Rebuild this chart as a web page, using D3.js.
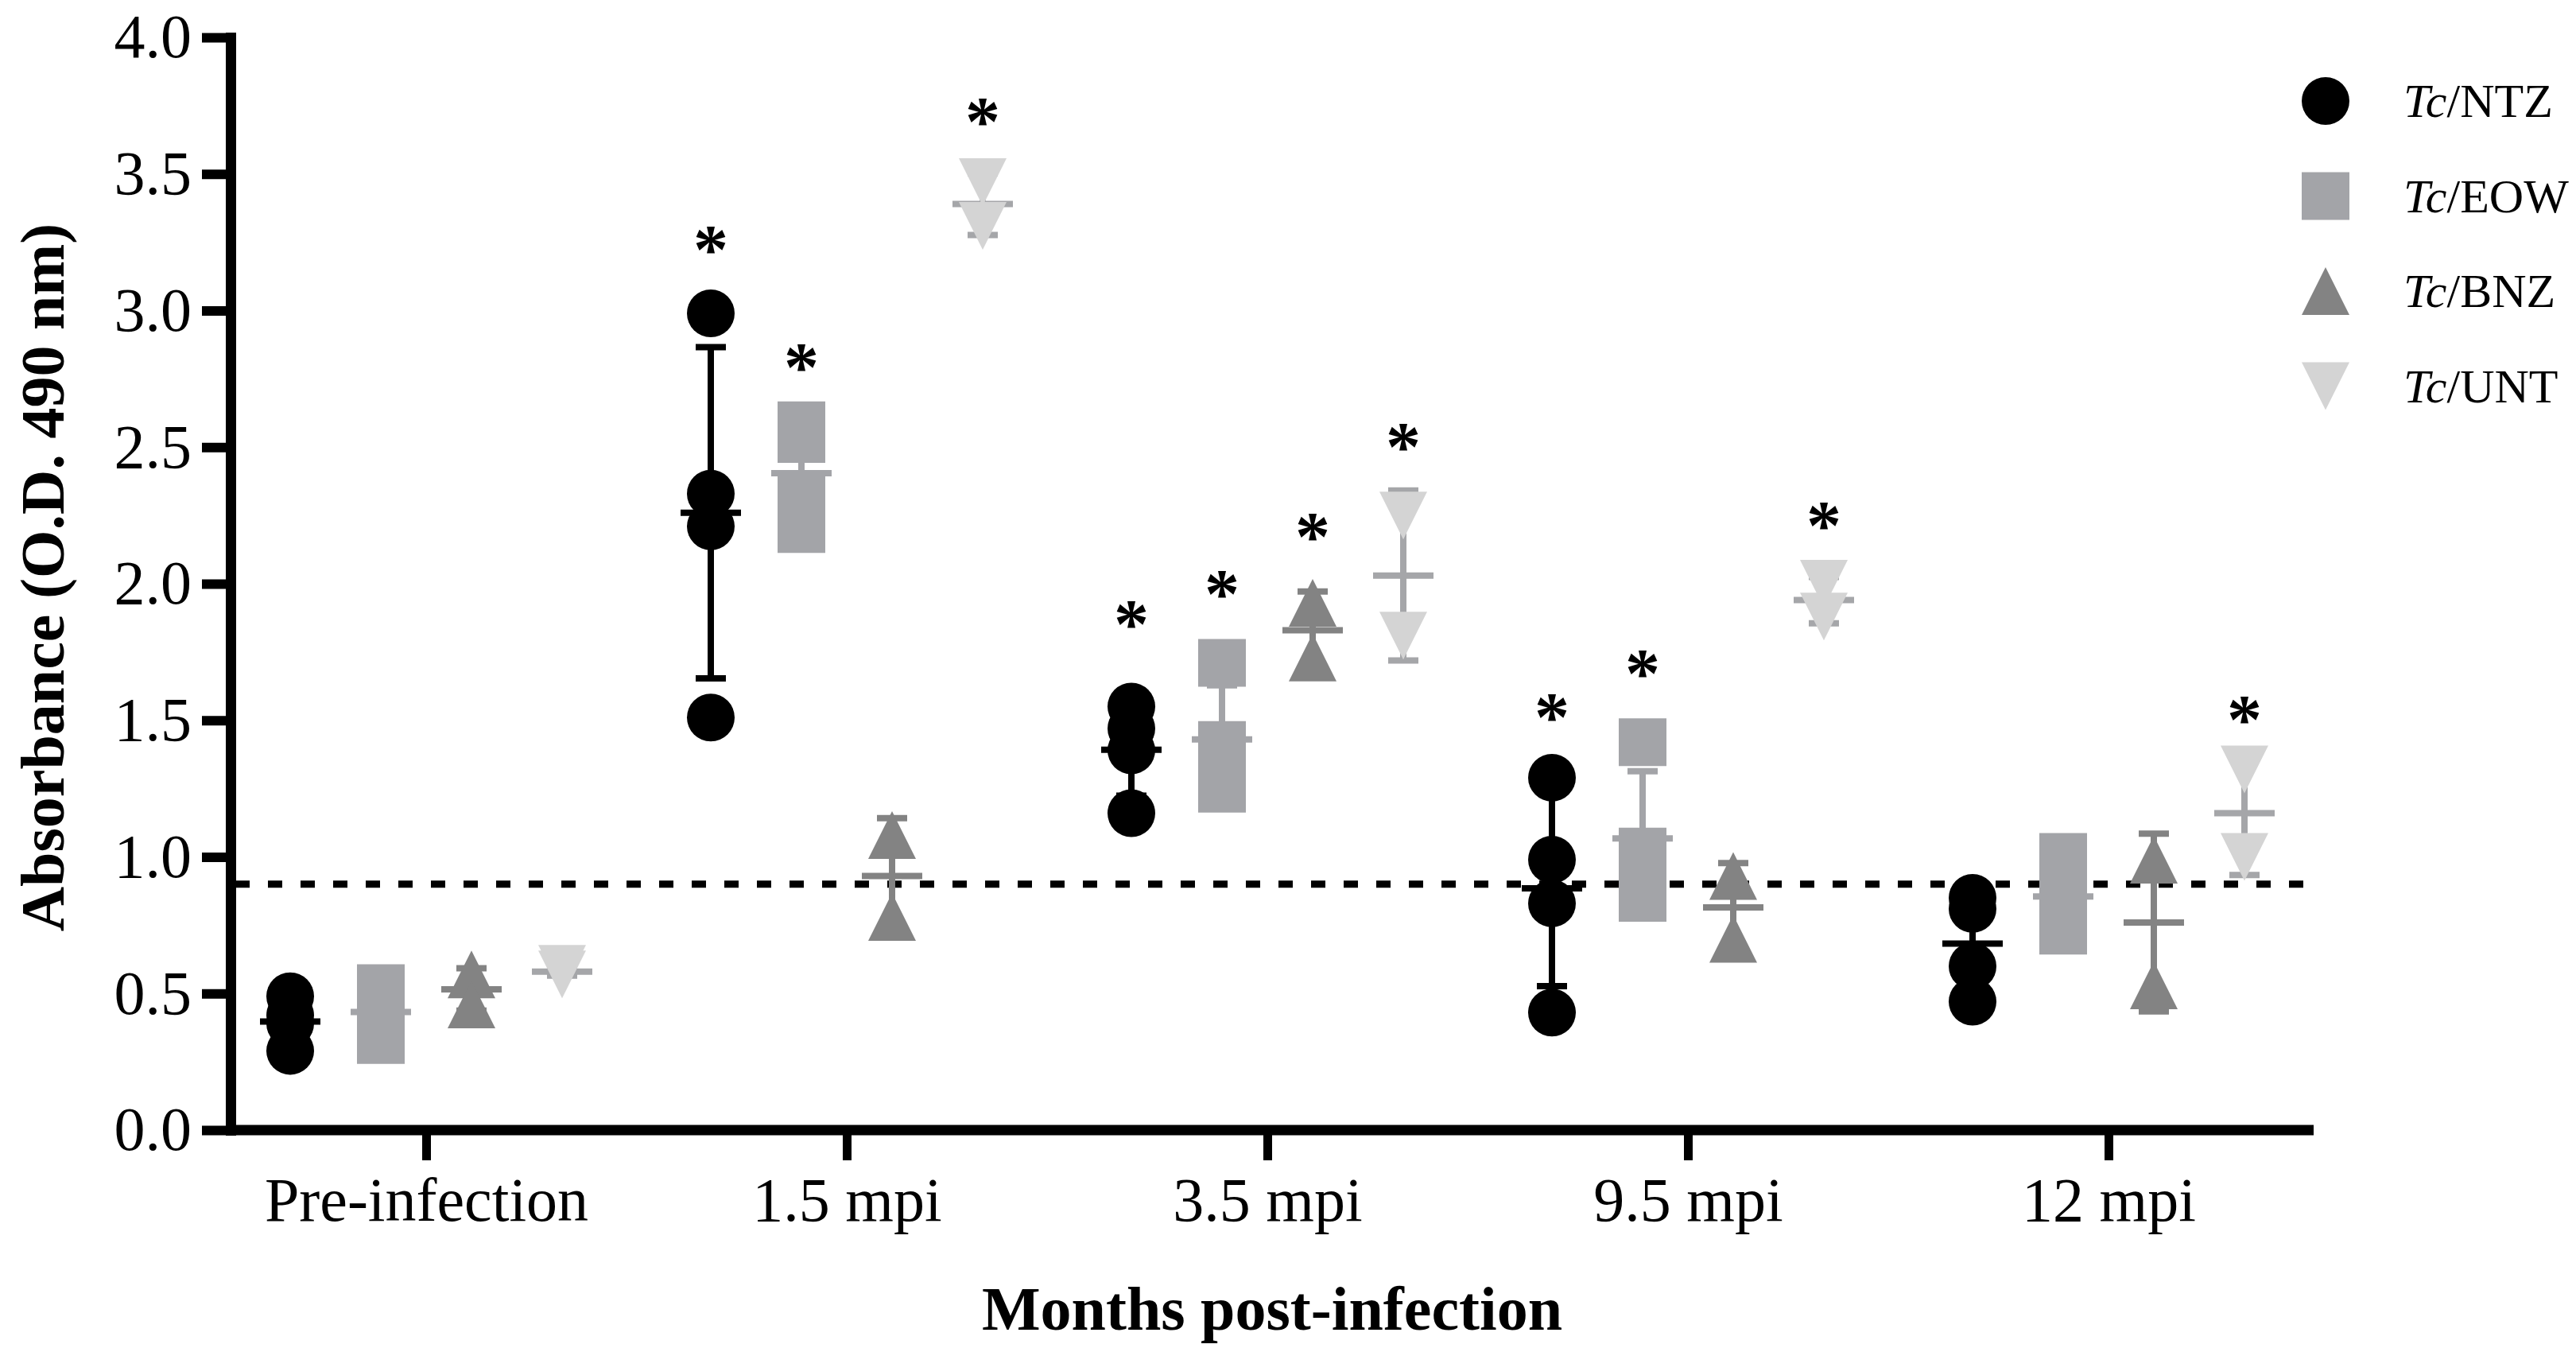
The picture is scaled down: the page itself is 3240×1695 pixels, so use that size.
<!DOCTYPE html>
<html>
<head>
<meta charset="utf-8">
<script src="https://cdn.jsdelivr.net/npm/d3@7"></script>
<style>
	html, body { margin: 0; padding: 0; background: #fff; }
	svg { display: block; }
	text { font-family: "Liberation Serif", "Times New Roman", serif; fill: #000; }
</style>
</head>
<body>
<svg id="chart" width="3240" height="1695"></svg>
<script>
const timepoints = ["Pre-infection", "1.5 mpi", "3.5 mpi", "9.5 mpi", "12 mpi"]
const groups = ["NTZ", "EOW", "BNZ", "UNT"]

// replicate absorbance readings (O.D. 490 nm), one array per time point
const ntz = [[0.49, 0.42, 0.39, 0.29], [2.99, 2.33, 2.21, 1.51], [1.55, 1.47, 1.39, 1.16], [1.29, 0.99, 0.83, 0.43], [0.85, 0.81, 0.60, 0.47]]
const eow = [[0.52, 0.45, 0.43, 0.33], [2.58, 2.53, 2.31, 2.20], [1.71, 1.41, 1.35, 1.25], [1.42, 1.02, 0.98, 0.85], [1.00, 0.87, 0.82, 0.73]]
const bnz = [[0.57, 0.46], [1.08, 0.78], [1.93, 1.73], [0.93, 0.70], [0.99, 0.53]]
const unt = [[0.59, 0.57], [3.47, 3.31], [2.25, 1.81], [2.00, 1.88], [1.32, 1.00]]

const cutoff = 0.9
const yTicks = [0, 0.5, 1, 1.5, 2, 2.5, 3, 3.5, 4]

// significance marks: time point, group, height of the star
const stars = [
	["1.5 mpi", "NTZ", 3.26], ["1.5 mpi", "EOW", 2.83], ["1.5 mpi", "UNT", 3.73],
	["3.5 mpi", "NTZ", 1.89], ["3.5 mpi", "EOW", 2.0], ["3.5 mpi", "BNZ", 2.21], ["3.5 mpi", "UNT", 2.54],
	["9.5 mpi", "NTZ", 1.55], ["9.5 mpi", "EOW", 1.71], ["9.5 mpi", "UNT", 2.25],
	["12 mpi", "UNT", 1.54],
]

const readings = { NTZ: ntz, EOW: eow, BNZ: bnz, UNT: unt }

const style = {
	NTZ: { fill: "#000000", bar: "#000000", shape: "circle" },
	EOW: { fill: "#a3a4a8", bar: "#a3a4a8", shape: "square" },
	BNZ: { fill: "#838383", bar: "#838383", shape: "up" },
	UNT: { fill: "#d4d4d4", bar: "#a5a6a9", shape: "down" },
}

const svg = d3.select("#chart")

const y = d3.scaleLinear().domain([0, 4]).range([1421, 47])
const x = d3.scalePoint().domain(timepoints).range([536, 2652])
const offset = d3.scalePoint().domain(groups).range([-171, 171])
const xLeft = 290, xRight = 2910
const mk = 30 // marker half size

function shapePath(shape, r) {
	if (shape === "circle") return d3.symbol(d3.symbolCircle, Math.PI * r * r)()
	if (shape === "square") return `M${-r},${-r}H${r}V${r}H${-r}Z`
	if (shape === "up") return `M0,${-r}L${r},${r}L${-r},${r}Z`
	return `M${-r},${-r}L${r},${-r}L0,${r}Z`
}

// flatten into one row per group & time point
const summary = []
groups.forEach(g => {
	timepoints.forEach((t, i) => {
		const vals = readings[g][i]
		summary.push({
			group: g, time: t, values: vals,
			mean: d3.mean(vals), sd: d3.deviation(vals),
			cx: x(t) + offset(g),
		})
	})
})

// cutoff line
svg.append("line")
	.attr("x1", xLeft + 6).attr("x2", xRight - 4)
	.attr("y1", y(cutoff)).attr("y2", y(cutoff))
	.attr("stroke", "#000").attr("stroke-width", 9)
	.attr("stroke-dasharray", "18 23")

// error bars and mean lines
const bars = svg.append("g").attr("class", "bars")
	.selectAll("g")
	.data(summary)
	.join("g")
	.attr("stroke", d => style[d.group].bar)
	.attr("stroke-width", 8)

bars.append("line")
	.attr("x1", d => d.cx).attr("x2", d => d.cx)
	.attr("y1", d => y(d.mean + d.sd)).attr("y2", d => y(d.mean - d.sd))
bars.selectAll("line.cap")
	.data(d => [d.mean + d.sd, d.mean - d.sd].map(v => ({ v, cx: d.cx })))
	.join("line")
	.attr("class", "cap")
	.attr("x1", d => d.cx - 19).attr("x2", d => d.cx + 19)
	.attr("y1", d => y(d.v)).attr("y2", d => y(d.v))
bars.append("line")
	.attr("x1", d => d.cx - 38).attr("x2", d => d.cx + 38)
	.attr("y1", d => y(d.mean)).attr("y2", d => y(d.mean))

// replicate points
svg.append("g").attr("class", "points")
	.selectAll("path")
	.data(summary.flatMap(d => d.values.map(v => ({ v, cx: d.cx, group: d.group }))))
	.join("path")
	.attr("d", d => shapePath(style[d.group].shape, mk))
	.attr("transform", d => `translate(${d.cx},${y(d.v)})`)
	.attr("fill", d => style[d.group].fill)

// stars
const starSize = 88
svg.append("g").attr("class", "stars")
	.selectAll("text")
	.data(stars)
	.join("text")
	.attr("x", d => x(d[0]) + offset(d[1]))
	.attr("y", d => y(d[2]) + starSize * 0.48)
	.attr("text-anchor", "middle")
	.style("font-size", `${starSize}px`)
	.style("font-weight", "bold")
	.text("*")

// y axis
const yAxis = svg.append("g")
	.attr("transform", `translate(${xLeft},0)`)
	.call(d3.axisLeft(y).tickValues(yTicks).tickFormat(d3.format(".1f")).tickSize(36).tickSizeOuter(0).tickPadding(13))
yAxis.select(".domain").attr("stroke-width", 13).attr("stroke-linecap", "square")
yAxis.selectAll(".tick line").attr("stroke-width", 12)
yAxis.selectAll(".tick text")
	.attr("font-family", null)
	.style("font-size", "78px")

// x axis
const xAxis = svg.append("g")
	.attr("transform", `translate(0,${y(0)})`)
	.call(d3.axisBottom(x).tickSize(38).tickSizeOuter(0).tickPadding(21))
xAxis.select(".domain").remove()
xAxis.selectAll(".tick line").attr("stroke-width", 11)
xAxis.selectAll(".tick text")
	.attr("font-family", null)
	.style("font-size", "78px")
svg.append("line")
	.attr("x1", xLeft - 6).attr("x2", xRight)
	.attr("y1", y(0)).attr("y2", y(0))
	.attr("stroke", "#000").attr("stroke-width", 13)

// axis titles
svg.append("text")
	.attr("transform", `translate(80,726) rotate(-90)`)
	.attr("text-anchor", "middle")
	.style("font-size", "78px")
	.style("font-weight", "bold")
	.text("Absorbance (O.D. 490 nm)")

svg.append("text")
	.attr("x", (xLeft + xRight) / 2)
	.attr("y", 1672)
	.attr("text-anchor", "middle")
	.style("font-size", "78px")
	.style("font-weight", "bold")
	.text("Months post-infection")

// legend
const legend = svg.append("g").attr("class", "legend")
	.selectAll("g")
	.data(groups)
	.join("g")
	.attr("transform", (d, i) => `translate(2925,${127 + i * 119.5})`)
legend.append("path")
	.attr("d", d => shapePath(style[d].shape, mk))
	.attr("fill", d => style[d].fill)
const lt = legend.append("text")
	.attr("x", 98)
	.attr("y", 20)
	.style("font-size", "60px")
lt.append("tspan").style("font-style", "italic").text("Tc")
lt.append("tspan").text(d => `/${d}`)
</script>
</body>
